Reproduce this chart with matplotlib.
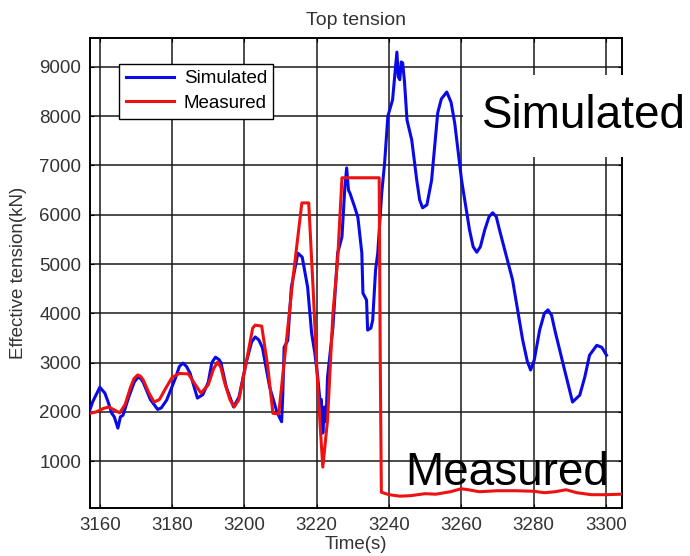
import numpy as np
from matplotlib import pyplot as plt

plt.rcParams['font.family'] = ['Liberation Sans', 'DejaVu Sans']

# simulated top tension (kN) against time (s)
t_sim = [3157.2, 3158, 3159, 3160, 3161.4, 3162.3, 3163.3, 3164, 3165, 3165.7, 3166.4,
         3168, 3169.5, 3170.5, 3171.3, 3172, 3174, 3176, 3177, 3178.5, 3181, 3182, 3183,
         3184, 3185, 3187, 3188.5, 3190, 3191, 3192, 3193, 3193.5, 3195, 3197, 3198.5,
         3200.5, 3202, 3203, 3204, 3205, 3207, 3209, 3210.3,
         3210.6, 3211, 3212, 3213, 3214.8, 3216, 3217.5, 3218.6, 3219.5, 3220.3, 3220.9,
         3221.3, 3221.7, 3222.2, 3222.6, 3223, 3224.5, 3225.8, 3227, 3227.8, 3228.3,
         3228.8, 3229.2, 3230.5, 3231.4, 3232.5, 3232.8, 3233.8, 3234.1, 3235, 3235.5,
         3236.3, 3236.9, 3238, 3238.8, 3239.7, 3241, 3242.2, 3242.6, 3243, 3243.4, 3243.8,
         3244.3, 3245, 3246.3, 3247.7, 3248.5, 3249.3, 3250.5, 3251.8, 3253.5, 3254.5,
         3256, 3257.2, 3258.2, 3260.1, 3262.3, 3263.3, 3264.3, 3265.3, 3266.5, 3267.7,
         3268.7, 3269.7, 3270.6, 3274.2, 3277, 3278.3, 3279.2, 3280.2, 3281.7, 3283,
         3284, 3285, 3285.9, 3288.6, 3290.8, 3292.8, 3294.2, 3295.5, 3297.5, 3298.9, 3300.2]
f_sim = [2030, 2200, 2350, 2500, 2380, 2200, 1970, 1900, 1670, 1900, 1930,
         2300, 2600, 2700, 2680, 2600, 2250, 2050, 2080, 2240, 2700, 2920, 2990,
         2920, 2780, 2280, 2350, 2600, 3000, 3110, 3060, 3000, 2500, 2100, 2300,
         3000, 3420, 3520, 3460, 3300, 2500, 2000, 1800,
         2300, 3310, 3450, 4530, 5220, 5140, 4530, 3600, 3190, 2700, 2240,
         2250, 1570, 2100, 1800, 2700, 3720, 5220, 5550, 6560, 6950,
         6500, 6440, 6160, 5950, 5220, 4410, 4270, 3660, 3700, 3860,
         4880, 5220, 6440, 7050, 8000, 8330, 9300, 8800, 8740, 9100, 9080,
         8700, 7920, 7520, 6700, 6300, 6140, 6200, 6700, 8070, 8350,
         8490, 8280, 7860, 6700, 5690, 5350, 5240, 5350, 5690, 5960,
         6040, 5960, 5690, 4680, 3460, 3020, 2850, 3050, 3660, 4000,
         4070, 3960, 3660, 2850, 2200, 2340, 2710, 3150, 3350, 3310, 3150]

# measured top tension
t_meas = [3157.2, 3159, 3161, 3162.5, 3164, 3165.5, 3167, 3168.5, 3169.5, 3170.5, 3171.3,
          3172, 3173.5, 3175, 3176.5, 3178, 3180, 3182, 3184.5, 3186, 3188, 3190,
          3191.5, 3192.6, 3193.5, 3194.5, 3196, 3197.2, 3198.5, 3200.5, 3202.3, 3203,
          3204.8, 3206.5, 3207.9, 3209.5, 3211, 3213.4, 3215.9, 3217.8, 3219, 3220.3,
          3221.7, 3223, 3224.5, 3225.8, 3227, 3237.3, 3237.6, 3237.9, 3240, 3243, 3246,
          3250, 3253, 3257, 3260, 3262, 3265, 3270, 3275, 3280, 3283, 3286, 3289, 3292,
          3296, 3300, 3304.4]
f_meas = [1970, 2000, 2070, 2100, 2040, 1980, 2150, 2500, 2680, 2750, 2720,
          2650, 2400, 2200, 2250, 2450, 2700, 2780, 2770, 2600, 2380, 2550,
          2880, 3010, 2900, 2600, 2250, 2100, 2250, 3000, 3700, 3760,
          3740, 2900, 1970, 1960, 3000, 4680, 6240, 6240, 4530, 2500,
          880, 1830, 4000, 5080, 6750, 6750, 3000, 370, 320, 290, 300,
          340, 330, 380, 440, 420, 380, 400, 400, 390, 360, 380, 420, 360,
          320, 320, 330]

x_ticks = np.arange(3160, 3301, 20)
y_ticks = np.arange(1000, 9001, 1000)

fig, axes = plt.subplots(figsize=(6.9, 5.56), dpi=100)
fig.subplots_adjust(left=0.130, right=0.901, bottom=0.086, top=0.932)

axes.plot(t_sim, f_sim, color='#0a0ae6', lw=2.2, label='Simulated', zorder=3)
axes.plot(t_meas, f_meas, color='#ee1111', lw=2.2, label='Measured', zorder=3)

axes.set_xlim([3157.2, 3304.4])
axes.set_ylim([46, 9590])
axes.set_xticks(x_ticks)
axes.set_yticks(y_ticks)
axes.tick_params(direction='in', length=3, top=True, right=True, labelsize=13.5,
                 labelcolor='#333333', color='black', pad=6)
axes.grid(True, color='#1a1a1a', lw=1.1)
for sp in axes.spines.values():
    sp.set_linewidth(1.4)

axes.set_xlabel('Time(s)', fontsize=13.5, color='#333333', labelpad=2)
axes.set_ylabel('Effective tension(kN)', fontsize=13.5, color='#333333')
axes.yaxis.set_label_coords(-0.117, 0.5)
axes.set_title('Top tension', fontsize=14, color='#333333', pad=9)

leg = axes.legend(loc='upper left', bbox_to_anchor=(0.055, 0.945), fontsize=13.5,
                  handlelength=2.6, handletextpad=0.5, borderpad=0.35, labelspacing=0.4,
                  fancybox=False, framealpha=1, edgecolor='black', borderaxespad=0)
leg.get_frame().set_linewidth(1.0)

# big labels for the two curves
fig.text(0.699, 0.770, 'Simulated', fontsize=33, va='baseline', ha='left',
         bbox=dict(facecolor='white', edgecolor='none', pad=14))
fig.text(0.587, 0.128, 'Measured', fontsize=33, va='baseline', ha='left')

fig.savefig('out.png')
